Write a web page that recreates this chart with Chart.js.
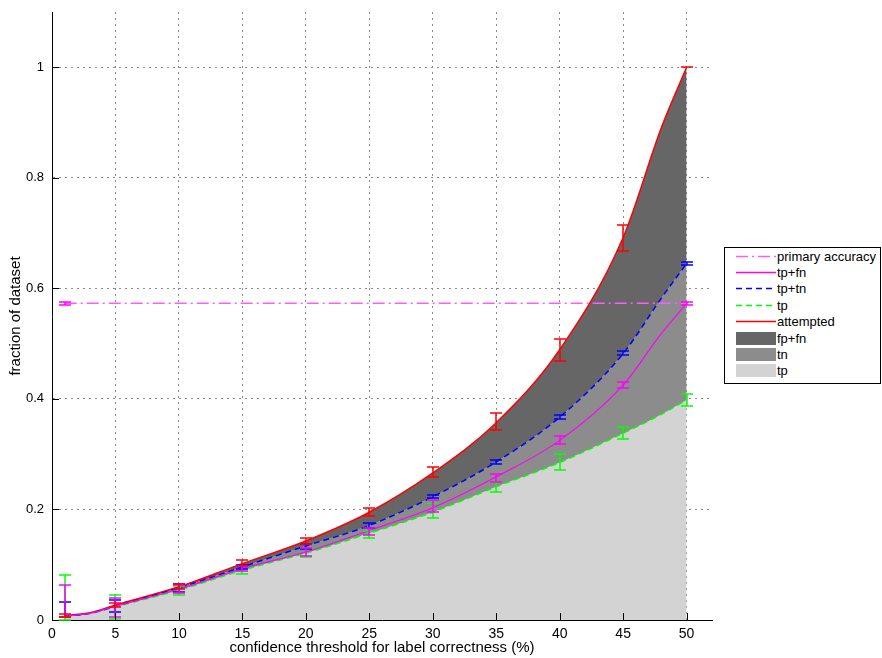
<!DOCTYPE html>
<html>
<head>
<meta charset="utf-8">
<script src="https://cdn.jsdelivr.net/npm/chart.js@4.4.0/dist/chart.umd.min.js"></script>
<style>
  html, body { margin: 0; padding: 0; background: #fff; }
  #wrap { position: relative; width: 882px; height: 658px; }
  #legend {
    position: absolute; left: 724px; top: 247px; width: 157px; height: 137px;
    box-sizing: border-box; border: 1px solid #000; background: #fff;
    padding-top: 0px;
    font: 13px "Liberation Sans", Arial, sans-serif; color: #000;
  }
  .row { height: 16.4px; display: flex; align-items: center; white-space: nowrap; }
  .row svg { margin-left: 11px; margin-right: 1px; flex: none; }
</style>
</head>
<body>
<div id="wrap">
  <canvas id="chart" width="882" height="658"></canvas>
  <div id="legend"></div>
</div>
<script>
// confidence thresholds (%) at which each curve was sampled
var thresholds = [1, 3, 5, 10, 15, 20, 25, 30, 35, 40, 45, 48, 50];
var attempted  = [0.008, 0.013, 0.027, 0.060, 0.102, 0.143, 0.195, 0.266, 0.357, 0.489, 0.692, 0.890, 1.000];
var tpTn       = [0.007, 0.012, 0.025, 0.058, 0.096, 0.134, 0.171, 0.223, 0.286, 0.367, 0.482, 0.582, 0.645];
var tpFn       = [0.007, 0.012, 0.025, 0.056, 0.093, 0.123, 0.162, 0.203, 0.259, 0.325, 0.425, 0.518, 0.573];
var tp         = [0.007, 0.012, 0.024, 0.054, 0.090, 0.121, 0.157, 0.195, 0.241, 0.285, 0.338, 0.372, 0.398];
var primaryAccuracy = 0.573;

// error bars, [low, high] at every 5%
var errThresholds = [1, 5, 10, 15, 20, 25, 30, 35, 40, 45, 50];
var attemptedErr = [[0.006, 0.010], [0.024, 0.030], [0.056, 0.066], [0.098, 0.108], [0.137, 0.149], [0.188, 0.202],
                    [0.258, 0.276], [0.343, 0.375], [0.469, 0.509], [0.667, 0.714], [1.000, 1.000]];
var tpTnErr = [[0.005, 0.033], [0.015, 0.036], [0.050, 0.066], [0.092, 0.100], [0.128, 0.138], [0.167, 0.176],
               [0.220, 0.226], [0.283, 0.290], [0.363, 0.370], [0.479, 0.486], [0.642, 0.648]];
var tpFnErr = [[0.005, 0.063], [0.005, 0.040], [0.048, 0.063], [0.088, 0.098], [0.115, 0.131], [0.153, 0.167],
               [0.196, 0.217], [0.250, 0.265], [0.318, 0.333], [0.420, 0.430], [0.569, 0.576]];
var tpErr = [[0.000, 0.082], [0.002, 0.046], [0.045, 0.062], [0.083, 0.097], [0.114, 0.128], [0.148, 0.161],
             [0.184, 0.211], [0.232, 0.250], [0.271, 0.300], [0.327, 0.349], [0.388, 0.408]];
var primaryErr = [[0.570, 0.576]];

var xTicks = [0, 5, 10, 15, 20, 25, 30, 35, 40, 45, 50];
var yTicks = [0, 0.2, 0.4, 0.6, 0.8, 1];

var FONT = '"Liberation Sans", Arial, sans-serif';

function points(values) {
    return values.map(function (v, i) { return { x: thresholds[i], y: v }; });
}

var errorSets = [
    { color: '#00ff00', x: errThresholds, range: tpErr },
    { color: '#0000ff', x: errThresholds, range: tpTnErr },
    { color: '#ff00ff', x: errThresholds, range: tpFnErr },
    { color: '#ff0000', x: errThresholds, range: attemptedErr },
    { color: '#ff00ff', x: [thresholds[0]], range: primaryErr }
];

// error bars with caps, plus matlab-style inward tick marks
var errorBarPlugin = {
    id: 'errorBars',
    afterDraw: function (chart) {
        var ctx = chart.ctx, xs = chart.scales.x, ys = chart.scales.y;
        var area = chart.chartArea;
        ctx.save();
        ctx.lineWidth = 1.5;
        errorSets.forEach(function (set) {
            ctx.strokeStyle = set.color;
            set.x.forEach(function (xv, i) {
                var px = Math.round(xs.getPixelForValue(xv));
                var lo = Math.round(ys.getPixelForValue(set.range[i][0]));
                var hi = Math.round(ys.getPixelForValue(set.range[i][1]));
                ctx.beginPath();
                ctx.moveTo(px, lo); ctx.lineTo(px, hi);
                ctx.moveTo(px - 6, lo); ctx.lineTo(px + 6, lo);
                ctx.moveTo(px - 6, hi); ctx.lineTo(px + 6, hi);
                ctx.stroke();
            });
        });
        ctx.lineWidth = 1;
        ctx.strokeStyle = '#000';
        ctx.beginPath();
        xTicks.forEach(function (v) {
            var px = Math.round(xs.getPixelForValue(v)) + 0.5;
            ctx.moveTo(px, area.bottom); ctx.lineTo(px, area.bottom - 7);
        });
        yTicks.forEach(function (v) {
            var py = Math.round(ys.getPixelForValue(v)) + 0.5;
            ctx.moveTo(area.left, py); ctx.lineTo(area.left + 7, py);
        });
        ctx.stroke();
        ctx.restore();
    }
};

var lineBase = { pointRadius: 0, borderWidth: 1.5, fill: false, cubicInterpolationMode: 'monotone' };
var areaBase = { pointRadius: 0, borderWidth: 0, borderColor: 'rgba(0,0,0,0)', cubicInterpolationMode: 'monotone' };

var ctx = document.getElementById('chart').getContext('2d');
var chart = new Chart(ctx, {
    type: 'line',
    data: {
        datasets: [
            Object.assign({}, lineBase, {
                label: 'primary accuracy',
                data: [{ x: thresholds[0], y: primaryAccuracy }, { x: thresholds[thresholds.length - 1], y: primaryAccuracy }],
                borderColor: '#ff5cff', borderDash: [12, 4, 2, 4]
            }),
            Object.assign({}, lineBase, { label: 'tp+fn', data: points(tpFn), borderColor: '#ff00ff', borderWidth: 1.2 }),
            Object.assign({}, lineBase, { label: 'tp+tn', data: points(tpTn), borderColor: '#0000ff', borderDash: [6, 4] }),
            Object.assign({}, lineBase, { label: 'tp', data: points(tp), borderColor: '#00ff00', borderDash: [6, 4] }),
            Object.assign({}, lineBase, { label: 'attempted', data: points(attempted), borderColor: '#ff0000' }),
            // stacked regions: each fills down to the next one
            Object.assign({}, areaBase, { label: 'fp+fn', data: points(attempted), backgroundColor: '#666666', fill: '+1' }),
            Object.assign({}, areaBase, { label: 'tn', data: points(tpTn), backgroundColor: '#8c8c8c', fill: '+1' }),
            Object.assign({}, areaBase, { label: 'tp', data: points(tp), backgroundColor: '#d3d3d3', fill: 'origin' })
        ]
    },
    options: {
        responsive: false,
        animation: false,
        events: [],
        layout: { padding: { top: 12, right: 170, left: 0, bottom: 0 } },
        plugins: {
            legend: { display: false },
            tooltip: { enabled: false }
        },
        scales: {
            x: {
                type: 'linear', min: 0, max: 52, z: 1,
                afterBuildTicks: function (scale) { scale.ticks = xTicks.map(function (v) { return { value: v }; }); },
                afterFit: function (scale) { scale.height = 38; },
                grid: { color: '#8a8a8a', drawTicks: false },
                border: { display: true, color: '#000', width: 1, dash: [2, 4] },
                ticks: {
                    color: '#000', padding: 6, maxRotation: 0, autoSkip: false,
                    font: { family: FONT, size: 14 },
                    callback: function (v) { return String(v); }
                },
                title: {
                    display: true, text: 'confidence threshold for label correctness (%)', color: '#000',
                    font: { family: FONT, size: 15, lineHeight: 1.0 }, padding: { top: 0, bottom: 3 }
                }
            },
            y: {
                type: 'linear', min: 0, max: 1.1, z: 1,
                afterBuildTicks: function (scale) { scale.ticks = yTicks.map(function (v) { return { value: v }; }); },
                afterFit: function (scale) {
                    scale.width = 52;
                    scale.paddingTop = 0;
                    scale.paddingBottom = 0;
                },
                grid: { color: '#8a8a8a', drawTicks: false },
                border: { display: true, color: '#000', width: 1, dash: [2, 4] },
                ticks: {
                    color: '#000', padding: 8,
                    font: { family: FONT, size: 13 },
                    callback: function (v) { return String(v); }
                },
                title: {
                    display: true, text: 'fraction of dataset', color: '#000',
                    font: { family: FONT, size: 15, lineHeight: 1.0 }, padding: { top: 8, bottom: 0 }
                }
            }
        }
    },
    plugins: [errorBarPlugin]
});

// legend box built from the dataset styles
var legend = document.getElementById('legend');
chart.data.datasets.forEach(function (ds) {
    var row = document.createElement('div');
    row.className = 'row';
    var sample;
    if (ds.fill === false) {
        var dash = ds.borderDash ? ' stroke-dasharray="' + ds.borderDash.join(' ') + '"' : '';
        sample = '<svg width="40" height="13"><line x1="0" y1="6.5" x2="40" y2="6.5" stroke="' +
                 ds.borderColor + '" stroke-width="1.5"' + dash + '/></svg>';
    } else {
        sample = '<svg width="40" height="13"><rect x="0" y="0" width="40" height="13" fill="' +
                 ds.backgroundColor + '"/></svg>';
    }
    row.innerHTML = sample + '<span>' + ds.label + '</span>';
    legend.appendChild(row);
});
</script>
</body>
</html>
